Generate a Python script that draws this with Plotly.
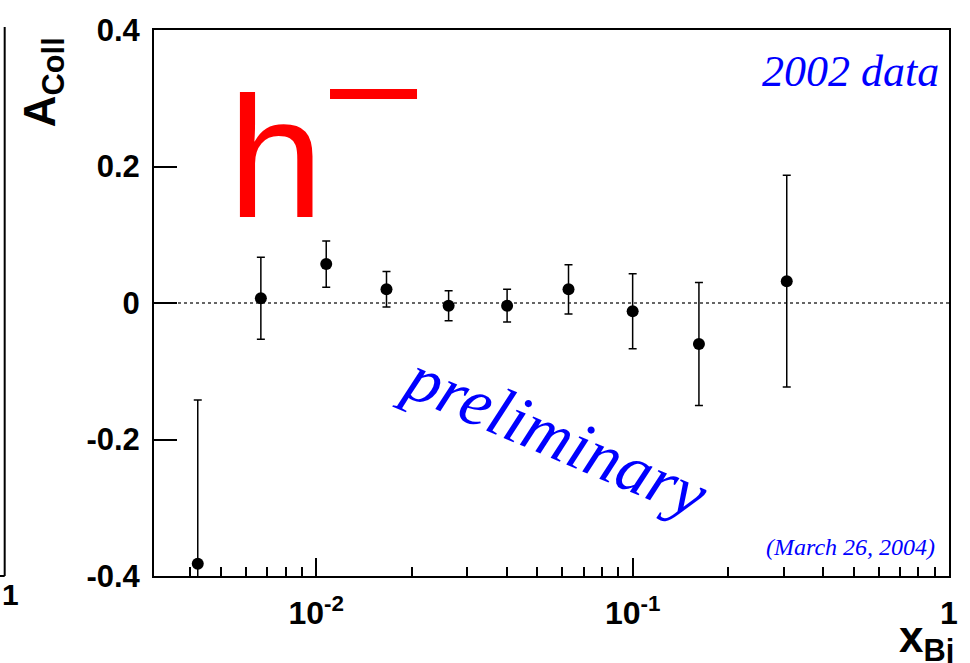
import plotly.graph_objects as go

# ---- data ----
x_bj = [0.00422, 0.00668, 0.01075, 0.01667, 0.0262, 0.0401, 0.0627, 0.100, 0.162, 0.307]
a_coll = [-0.382, 0.007, 0.057, 0.020, -0.004, -0.004, 0.020, -0.012, -0.060, 0.032]
a_err = [0.240, 0.060, 0.034, 0.026, 0.022, 0.024, 0.036, 0.055, 0.090, 0.155]

y_tickvals = [0.4, 0.2, 0, -0.2, -0.4]
y_ticktext = ["0.4", "0.2", "0", "-0.2", "-0.4"]
x_tickvals = [0.01, 0.1, 1]
x_ticktext = ["10<sup>-2</sup>", "10<sup>-1</sup>", "1"]
x_minor = [m * 10.0 ** e for e in (-3, -2, -1) for m in range(2, 10)]

W, H = 970, 663
L, R, T, B = 154, 12, 30, 87
PW, PH = W - L - R, H - T - B


def px(x):
    return (x - L) / PW


def py(y):
    return (H - B - y) / PH


fig = go.Figure()
fig.add_trace(go.Scatter(
    x=x_bj, y=a_coll, mode="markers",
    marker=dict(color="black", size=12, symbol="circle"),
    error_y=dict(type="data", array=a_err, visible=True, color="black",
                 thickness=1.5, width=4),
    showlegend=False, cliponaxis=True,
))

bold = dict(family="Liberation Sans, Arial, sans-serif", color="black", weight="bold")
serif_it = dict(family="Liberation Serif, Times New Roman, serif", color="#0000ff", style="italic")

fig.update_layout(
    width=W, height=H,
    margin=dict(l=L, r=R, t=T, b=B, pad=0),
    paper_bgcolor="white", plot_bgcolor="white",
    xaxis=dict(type="log", range=[-2.513, 0], showgrid=False, zeroline=False,
               showline=True, linecolor="black", linewidth=2, mirror=True,
               ticks="inside", ticklen=18, tickwidth=1.5, tickcolor="black",
               tickmode="array", tickvals=x_tickvals, ticktext=x_ticktext,
               tickfont=dict(size=32, **bold), ticklabelstandoff=8,
               minor=dict(tickmode="array", tickvals=x_minor, ticks="inside",
                          ticklen=9, tickwidth=1.5, tickcolor="black", showgrid=False)),
    yaxis=dict(range=[-0.4, 0.4], showgrid=False, zeroline=False,
               showline=True, linecolor="black", linewidth=2, mirror=True,
               ticks="inside", ticklen=23, tickwidth=1.5, tickcolor="black",
               tickmode="array", tickvals=y_tickvals, ticktext=y_ticktext,
               tickfont=dict(size=31, **bold), ticklabelstandoff=6),
)

# dotted zero line
fig.add_shape(type="line", xref="paper", yref="y", x0=0, x1=1, y0=0, y1=0,
              line=dict(color="#333333", width=1.3, dash="dot"), layer="below")

# partial neighbouring panel on the left
fig.add_shape(type="line", xref="paper", yref="paper", x0=px(3), x1=px(3), y0=py(576), y1=py(27),
              line=dict(color="black", width=2))
fig.add_shape(type="line", xref="paper", yref="paper", x0=px(-2), x1=px(3), y0=py(576), y1=py(576),
              line=dict(color="black", width=2))
fig.add_annotation(x=px(19), y=py(594), xref="paper", yref="paper", text="1", showarrow=False,
                   xanchor="right", yanchor="middle", font=dict(size=30, **bold))

# axis titles
fig.add_annotation(x=px(42), y=py(82), xref="paper", yref="paper",
                   text="A<sub>Coll</sub>", textangle=-90, showarrow=False,
                   xanchor="center", yanchor="middle", font=dict(size=44, **bold))
fig.add_annotation(x=px(905), y=py(640), xref="paper", yref="paper",
                   text="x<sub>Bj</sub>", showarrow=False,
                   xanchor="left", yanchor="middle", font=dict(size=44, **bold))

# labels
fig.add_annotation(x=px(950), y=py(72), xref="paper", yref="paper", text="2002 data",
                   showarrow=False, xanchor="right", yanchor="middle", font=dict(size=44, **serif_it))
fig.add_annotation(x=px(946), y=py(547), xref="paper", yref="paper", text="(March 26, 2004)",
                   showarrow=False, xanchor="right", yanchor="middle", font=dict(size=24, **serif_it))
fig.add_annotation(x=px(560), y=py(435), xref="paper", yref="paper", text="preliminary",
                   textangle=23, showarrow=False, xanchor="center", yanchor="middle",
                   font=dict(size=68, **serif_it))

# hand-drawn red h^-
fig.add_annotation(x=px(277), y=py(157), xref="paper", yref="paper", text="h",
                   showarrow=False, xanchor="center", yanchor="middle",
                   font=dict(size=172, family="Liberation Sans, Arial, sans-serif", color="#ff0000"))
fig.add_shape(type="rect", xref="paper", yref="paper", x0=px(332), x1=px(420), y0=py(99), y1=py(89),
              fillcolor="#ff0000", line=dict(width=0))

fig.write_html("out.html")
